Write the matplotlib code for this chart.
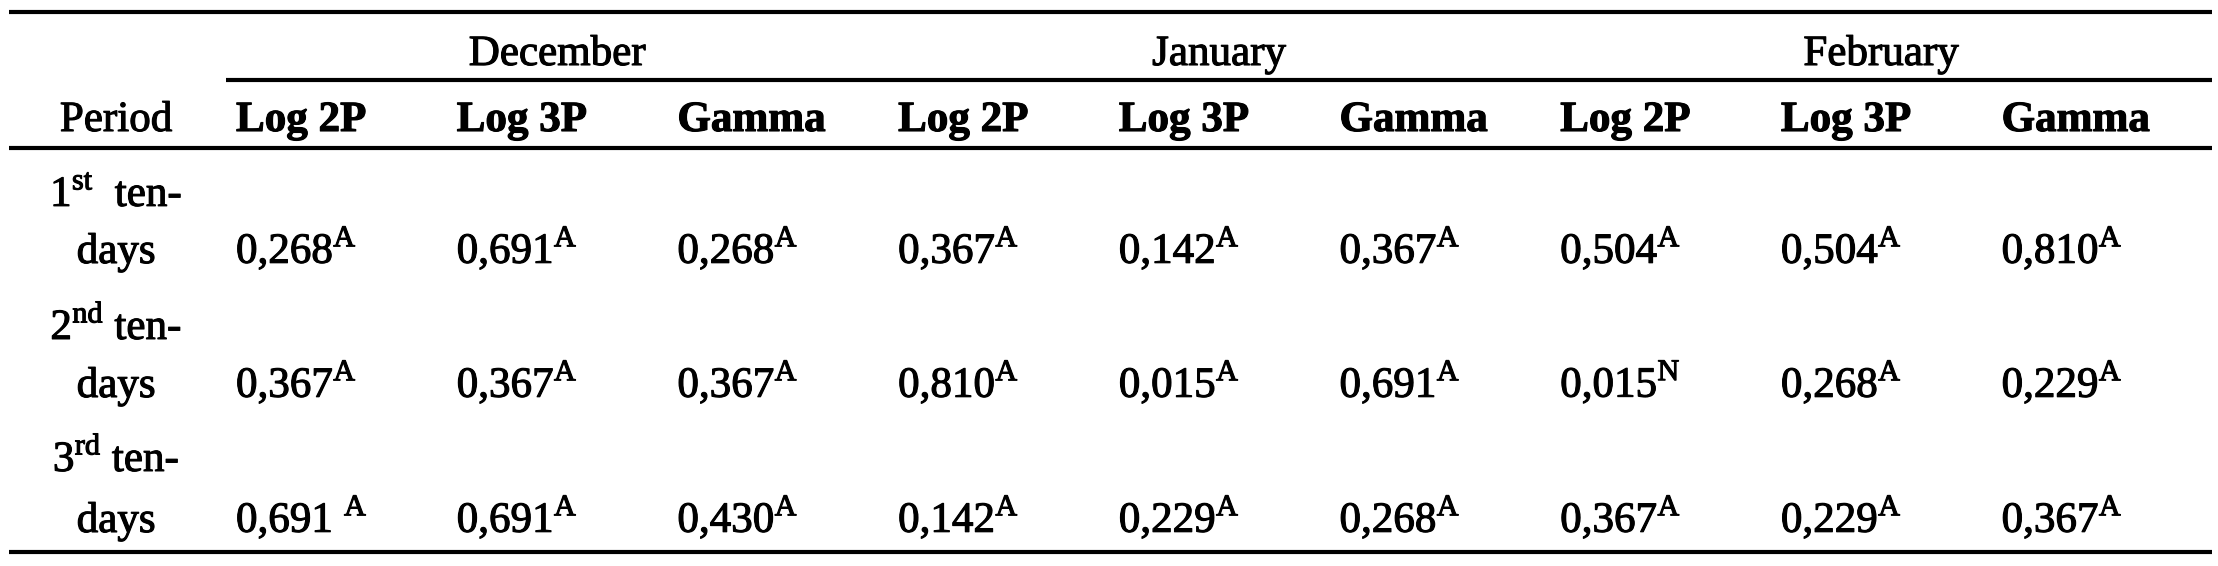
import matplotlib
matplotlib.use('Agg')
import matplotlib.pyplot as plt
import matplotlib.patheffects as pe

# Table content
months = ['December', 'January', 'February']
methods = ['Log 2P', 'Log 3P', 'Gamma']
period_ord = ['1', '2', '3']
period_sup = ['st', 'nd', 'rd']
p_values = [
    [0.268, 0.691, 0.268, 0.367, 0.142, 0.367, 0.504, 0.504, 0.810],
    [0.367, 0.367, 0.367, 0.810, 0.015, 0.691, 0.015, 0.268, 0.229],
    [0.691, 0.691, 0.430, 0.142, 0.229, 0.268, 0.367, 0.229, 0.367],
]
fit_flags = [
    ['A', 'A', 'A', 'A', 'A', 'A', 'A', 'A', 'A'],
    ['A', 'A', 'A', 'A', 'A', 'A', 'N', 'A', 'A'],
    ['A', 'A', 'A', 'A', 'A', 'A', 'A', 'A', 'A'],
]

plt.rcParams['font.family'] = ['Liberation Serif', 'DejaVu Serif']
plt.rcParams['mathtext.fontset'] = 'custom'
plt.rcParams['mathtext.rm'] = 'Liberation Serif'
plt.rcParams['mathtext.bf'] = 'Liberation Serif:bold'

W, H = 2218, 566
fig = plt.figure(figsize=(W / 100, H / 100), dpi=100)
ax = fig.add_axes([0, 0, 1, 1])
ax.set_xlim(0, W)
ax.set_ylim(H, 0)
ax.axis('off')

fs = 31
ink = [pe.withStroke(linewidth=0.8, foreground='black')]
left, right = 9, 2212
group_left, group_w = 226, 662
col_x0, col_pitch = 236, 220.7
label_x = 116

# rules
lw = 3.0
for y, x0 in [(12, left), (80, group_left), (148, left), (552, left)]:
    ax.plot([x0, right], [y, y], color='black', lw=lw, solid_capstyle='butt')

# month header
for g, m in enumerate(months):
    cx = group_left + group_w * (g + 0.5)
    ax.text(cx, 65, m, ha='center', va='baseline', fontsize=fs, path_effects=ink)

# sub header
ax.text(label_x, 131, 'Period', ha='center', va='baseline', fontsize=fs,
        path_effects=ink)
for i in range(9):
    x = col_x0 + i * col_pitch
    ax.text(x, 131, methods[i % 3], ha='left', va='baseline', fontsize=fs,
            fontweight='bold', path_effects=ink)

# body rows
label_base = [206, 339, 471]
value_base = [263, 397, 532]
for r in range(3):
    sep = '  ' if r == 0 else ' '
    ax.text(label_x, label_base[r],
            period_ord[r] + r'$^{\mathrm{' + period_sup[r] + '}}$' + sep + 'ten-',
            ha='center', va='baseline', fontsize=fs, path_effects=ink)
    ax.text(label_x, value_base[r], 'days', ha='center', va='baseline', fontsize=fs,
            path_effects=ink)
    for i in range(9):
        x = col_x0 + i * col_pitch
        num = f'{p_values[r][i]:.3f}'.replace('.', ',')
        gap = ' ' if (r == 2 and i == 0) else ''
        ax.text(x, value_base[r], num + gap + r'$^{\mathrm{' + fit_flags[r][i] + '}}$',
                ha='left', va='baseline', fontsize=fs, path_effects=ink)

fig.savefig('out.png', dpi=100, facecolor='white')
